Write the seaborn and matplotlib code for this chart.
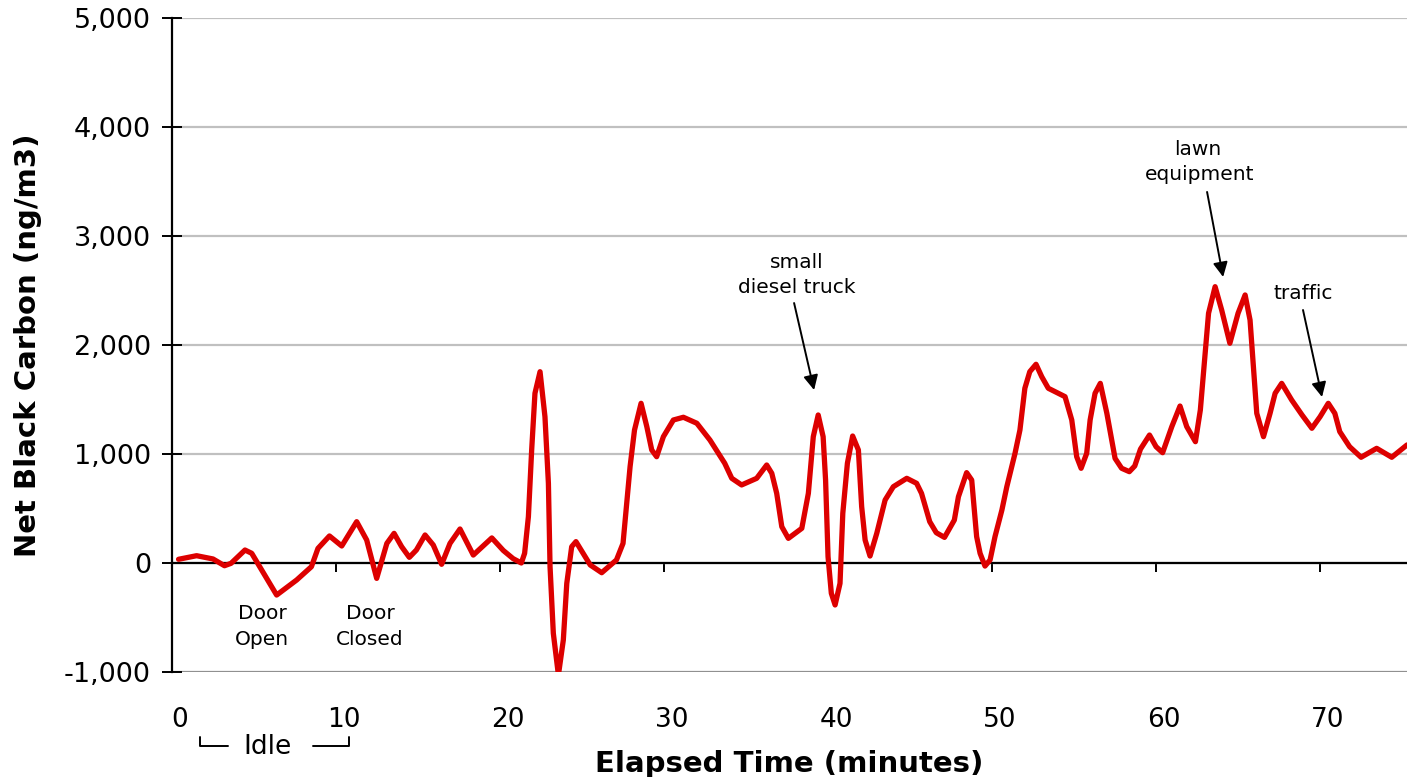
import matplotlib
matplotlib.use("Agg")
import matplotlib.pyplot as plt
from matplotlib.transforms import ScaledTranslation
from matplotlib.ticker import FuncFormatter
import seaborn as sns
import pandas as pd

time_min = [0.4, 1.5, 2.5, 3.2, 3.6, 4.45, 4.86, 6.38, 7.6, 8.5, 8.9, 9.6, 10.35, 11.26, 11.87,
            12.48, 13.1, 13.54, 14.0, 14.47, 14.9, 15.43, 15.93, 16.44, 16.95, 17.56, 18.37,
            19.5, 20.2, 20.8, 21.3, 21.5, 21.73, 21.93, 22.13, 22.44, 22.74, 22.95, 23.05,
            23.25, 23.56, 23.86, 24.07, 24.37, 24.63, 25.5, 26.2, 27.1, 27.5, 27.93, 28.2,
            28.6, 28.95, 29.25, 29.55, 29.96, 30.57, 31.18, 32.0, 32.8, 33.7, 34.13, 34.73,
            35.65, 36.26, 36.57, 36.87, 37.18, 37.58, 38.4, 38.8, 39.1, 39.4, 39.7, 39.85,
            40.0, 40.2, 40.43, 40.73, 40.9, 41.18, 41.5, 41.85, 42.05, 42.26, 42.56, 42.97,
            43.48, 43.98, 44.8, 45.4, 45.7, 46.2, 46.6, 47.1, 47.7, 47.95, 48.45, 48.76,
            49.06, 49.27, 49.57, 49.88, 50.18, 50.6, 50.9, 51.4, 51.7, 52.0, 52.3, 52.68,
            53.03, 53.43, 53.84, 54.45, 54.86, 55.16, 55.43, 55.77, 55.98, 56.28, 56.6,
            57.0, 57.5, 57.9, 58.37, 58.7, 59.05, 59.6, 60.0, 60.4, 60.96, 61.46, 61.87,
            62.4, 62.7, 63.2, 63.6, 64.0, 64.5, 65.0, 65.43, 65.73, 66.14, 66.55, 66.95,
            67.26, 67.66, 68.27, 68.9, 69.5, 70.0, 70.5, 70.9, 71.2, 71.8, 72.5, 73.45,
            74.37, 75.3]
black_carbon = [34, 67, 37, -25, -3, 119, 89, -294, -156, -34, 134, 248, 156, 379, 211,
                -141, 180, 272, 150, 52, 119, 257, 165, -12, 180, 312, 73,
                230, 115, 40, 0, 89, 425, 1037, 1557, 1755, 1342, 731, -34,
                -645, -1028, -706, -187, 150, 196, -18, -89, 28, 180, 884, 1220,
                1465, 1251, 1037, 975, 1159, 1312, 1337, 1282, 1128, 915, 777, 716,
                777, 899, 823, 639, 333, 226, 318, 639, 1159, 1358, 1159, 761,
                58, -278, -385, -187, 456, 915, 1165, 1037, 517, 211, 64, 272,
                578, 700, 777, 731, 639, 379, 278, 235, 394, 608, 829, 761,
                242, 89, -28, 28, 242, 486, 700, 1006, 1220, 1603, 1755, 1823,
                1709, 1603, 1572, 1526, 1312, 975, 869, 1006, 1312, 1557, 1648,
                1373, 960, 869, 838, 890, 1045, 1174, 1067, 1012, 1251, 1440, 1251,
                1113, 1404, 2291, 2535, 2321, 2016, 2291, 2459, 2229, 1373, 1159, 1373,
                1557, 1648, 1495, 1358, 1236, 1342, 1465, 1373, 1205, 1067, 970, 1052,
                970, 1083]

x_ticks = [0, 10, 20, 30, 40, 50, 60, 70]
y_ticks = [-1000, 0, 1000, 2000, 3000, 4000, 5000]

# annotations: (text, text_x, text_y) and arrows (x_from, y_from, x_to, y_to)
annotation_texts = [("small", 38.1, 2761), ("diesel truck", 38.1, 2523),
                    ("lawn", 62.56, 3789), ("equipment", 62.68, 3560),
                    ("traffic", 68.96, 2477),
                    ("Door", 5.49, -459), ("Open", 5.49, -706),
                    ("Door", 12.07, -459), ("Closed", 12.07, -706)]
arrows = [(37.93, 2385, 39.15, 1587), (63.11, 3404, 64.09, 2624), (68.96, 2321, 70.12, 1523)]

sns.set_style("white")
plt.rcParams['font.family'] = ['DejaVu Sans']
plt.rcParams['text.color'] = 'black'
plt.rcParams['axes.labelcolor'] = 'black'

fig = plt.figure(figsize=(14.07, 7.77), dpi=100)
ax = fig.add_axes([172/1407, 1 - 672/777, 1 - 172/1407, (672 - 18)/777])

df = pd.DataFrame({"t": time_min, "bc": black_carbon})
sns.lineplot(data=df, x="t", y="bc", ax=ax, sort=False, estimator=None,
             color="#dd0000", linewidth=3.8, zorder=5)

ax.set_xlim(0, 75.3)
ax.set_ylim(-1000, 5000)
ax.set_xticks(x_ticks)
ax.set_yticks(y_ticks)
ax.yaxis.set_major_formatter(FuncFormatter(lambda v, p: f"{int(v):,}"))

for s in ["top", "right"]:
    ax.spines[s].set_visible(False)
ax.spines["left"].set_color("black")
ax.spines["left"].set_linewidth(1.6)
ax.spines["bottom"].set_position(("data", 0))
ax.spines["bottom"].set_color("black")
ax.spines["bottom"].set_linewidth(1.6)
ax.spines["bottom"].set_zorder(4)

ax.yaxis.grid(True, color="#c0c0c0", linewidth=1.6)
ax.set_axisbelow(True)
glines = ax.get_ygridlines()
glines[0].set_color("#909090")

ax.tick_params(axis="y", direction="inout", length=14.4, width=1.4, colors="black",
               labelsize=19.5, pad=8, left=True)
ax.tick_params(axis="x", direction="out", length=6.5, width=1.4, colors="black",
               labelsize=19, pad=97, bottom=True)

for lab in ax.get_xticklabels():
    lab.set_transform(lab.get_transform() + ScaledTranslation(8/100, 0, fig.dpi_scale_trans))

ax.set_xlabel("Elapsed Time (minutes)", fontsize=21, fontweight="bold", color="black")
ax.xaxis.set_label_coords(0.5, -(750 - 672) / 654)
ax.set_ylabel("Net Black Carbon (ng/m3)", fontsize=21, fontweight="bold", color="black")
ax.yaxis.set_label_coords((42 - 172) / 1235, 0.5)

for txt, tx, ty in annotation_texts:
    ax.text(tx, ty, txt, ha="center", va="center", fontsize=14.5, color="black")
for x0, y0, x1, y1 in arrows:
    ax.annotate("", xy=(x1, y1), xytext=(x0, y0),
                arrowprops=dict(arrowstyle="-|>", color="black", lw=1.4, mutation_scale=22,
                                shrinkA=0, shrinkB=0))

# Idle bracket below the axis (figure pixel coordinates)
def fx(px):
    return px / 1407
def fy(py):
    return 1 - py / 777
fig.text(fx(268), fy(747), "Idle", ha="center", va="center", fontsize=19, color="black")
fig.add_artist(plt.Line2D([fx(200), fx(200), fx(228)], [fy(737), fy(746), fy(746)],
                          color="black", lw=1.4))
fig.add_artist(plt.Line2D([fx(313), fx(349), fx(349)], [fy(746), fy(746), fy(737)],
                          color="black", lw=1.4))

fig.savefig("out.png", dpi=100)
